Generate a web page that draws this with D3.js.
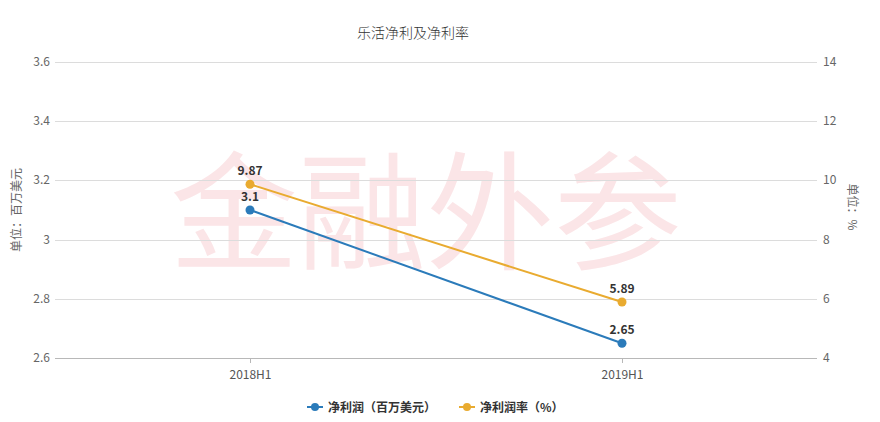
<!DOCTYPE html>
<html><head><meta charset="utf-8">
<script src="https://cdn.jsdelivr.net/npm/d3@7/dist/d3.min.js"></script>
<style>
body{margin:0;background:#fff;}
svg{display:block;font-family:"Noto Sans CJK SC","Noto Sans",sans-serif;}
</style></head>
<body><svg id="c" width="880" height="422"></svg>
<script>
const categories = ["2018H1","2019H1"];
const profit = [3.1, 2.65];
const margin = [9.87, 5.89];
const leftTicks = [2.6, 2.8, 3.0, 3.2, 3.4, 3.6];
const rightTicks = [4, 6, 8, 10, 12, 14];
const seriesNames = ["净利润（百万美元）", "净利润率（%）"];
const colors = ["#2b7bba", "#e9ab30"];

const svg = d3.select("#c");
const plotL = 55, plotR = 817, plotT = 62, plotB = 358;

// watermark
svg.append("text").attr("x", 426).attr("y", 260).attr("text-anchor","middle")
  .attr("font-size", 128).attr("font-weight", 400).attr("fill", "#fbe5e7")
  .text("金融外参");

const x = d3.scalePoint().domain(categories).range([250, 622]);
const yL = d3.scaleLinear().domain([2.6, 3.6]).range([plotB, plotT]);
const yR = d3.scaleLinear().domain([4, 14]).range([plotB, plotT]);

// title
svg.append("text").attr("x", 413).attr("y", 38).attr("text-anchor","middle")
  .attr("font-size", 14).attr("font-weight", 300).attr("fill", "#333").text("乐活净利及净利率");

// gridlines
svg.append("g").selectAll("line").data(leftTicks.slice(1)).join("line")
  .attr("x1", plotL).attr("x2", plotR)
  .attr("y1", d => Math.round(yL(d)) + 0.5).attr("y2", d => Math.round(yL(d)) + 0.5)
  .attr("stroke", "#dcdcdc").attr("stroke-width", 1);

// left axis labels
svg.append("g").selectAll("text").data(leftTicks).join("text")
  .attr("x", 50).attr("y", d => yL(d) + 4).attr("text-anchor", "end")
  .attr("font-size", 12).attr("fill", "#666").text(d => d3.format("")(d));

// right axis labels
svg.append("g").selectAll("text").data(rightTicks).join("text")
  .attr("x", 823).attr("y", d => yR(d) + 4).attr("text-anchor", "start")
  .attr("font-size", 12).attr("fill", "#666").text(d => d);

// axis titles
svg.append("text").attr("transform", "translate(21,210) rotate(-90)").attr("text-anchor","middle")
  .attr("font-size", 12).attr("fill", "#666").text("单位：百万美元");
svg.append("text").attr("transform", "translate(848,207) rotate(90)").attr("text-anchor","middle")
  .attr("font-size", 12).attr("fill", "#666").text("单位：%");

// x axis
const xAxis = d3.axisBottom(x).tickSize(5).tickSizeOuter(0);
const gx = svg.append("g").attr("transform", `translate(0,${plotB})`).call(xAxis);
gx.select(".domain").attr("d", `M${plotL},0.5H${plotR}`).attr("stroke", "#b8b8b8");
gx.selectAll(".tick line").attr("stroke", "#b8b8b8");
gx.selectAll(".tick text").attr("font-size", 12).attr("fill", "#555")
  .attr("font-family", '"Noto Sans CJK SC",sans-serif').attr("dy", "1.05em");

// series
const series = [
  {vals: profit, y: yL, color: colors[0]},
  {vals: margin, y: yR, color: colors[1]}
];
series.forEach(s => {
  const pts = categories.map((c, i) => [x(c), s.y(s.vals[i]), s.vals[i]]);
  svg.append("path").attr("d", d3.line()(pts.map(p => [p[0], p[1]])))
    .attr("fill", "none").attr("stroke", s.color).attr("stroke-width", 2);
  svg.append("g").selectAll("circle").data(pts).join("circle")
    .attr("cx", d => d[0]).attr("cy", d => d[1]).attr("r", 4.5).attr("fill", s.color);
  svg.append("g").selectAll("text").data(pts).join("text")
    .attr("x", d => d[0]).attr("y", d => d[1] - 9).attr("text-anchor", "middle")
    .attr("font-size", 12).attr("font-weight", "bold").attr("fill", "#333")
    .text(d => d[2]);
});

// legend
const legendX = [307, 459];
seriesNames.forEach((n, i) => {
  const g = svg.append("g").attr("transform", `translate(${legendX[i]},407)`);
  g.append("line").attr("x1", 0).attr("x2", 16).attr("y1", 0).attr("y2", 0)
    .attr("stroke", colors[i]).attr("stroke-width", 2);
  g.append("circle").attr("cx", 8).attr("cy", 0).attr("r", 4).attr("fill", colors[i]);
  g.append("text").attr("x", 21).attr("y", 4.5).attr("font-size", 12).attr("font-weight", "bold")
    .attr("fill", "#333").text(n);
});
</script></body></html>
